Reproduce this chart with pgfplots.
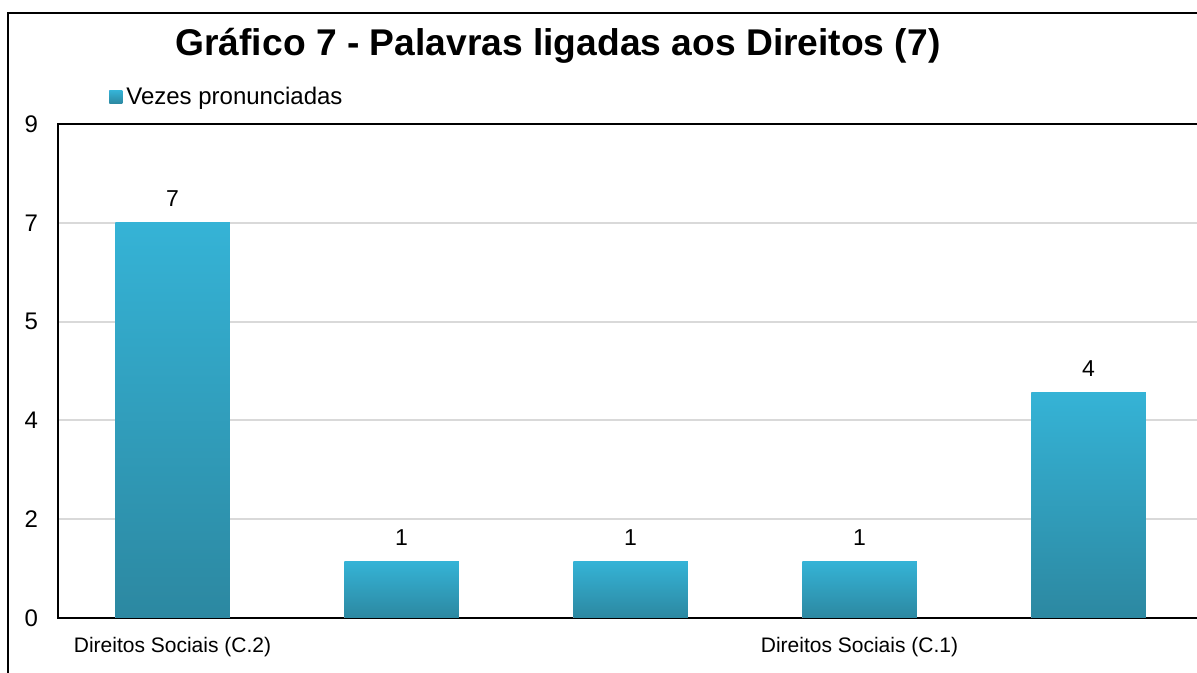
\documentclass[border=0pt]{standalone}
\usepackage{fontspec}
\setmainfont{Liberation Sans}
\usepackage{pgfplots}
\pgfplotsset{compat=1.18}
\definecolor{bartop}{RGB}{53,179,214}
\definecolor{barbot}{RGB}{44,136,161}
\definecolor{gridgray}{RGB}{217,217,217}
\begin{document}
\begin{tikzpicture}
% page is 1197x673 px at 0.5pt per px
\draw[line width=1pt] (4pt,-5pt) -- (4pt,330pt) -- (605pt,330pt);
\node[font=\bfseries\fontsize{18.6}{21}\selectfont, anchor=base] at (279pt,308.5pt)
  {Gráfico 7 - Palavras ligadas aos Direitos (7)};
\begin{axis}[
  set layers,
  at={(29pt,27.5pt)}, anchor=south west,
  scale only axis, width=572.5pt, height=247pt,
  ybar, bar width=0.5, bar shift=0pt,
  xmin=-0.5, xmax=4.5, ymin=0, ymax=8.75,
  ytick={0,1.75,3.5,5.25,7,8.75},
  yticklabels={0,2,4,5,7,9},
  xtick={0,1,2,3,4},
  xticklabels={Direitos Sociais (C.2),,,Direitos Sociais (C.1),},
  major tick length=0pt,
  ymajorgrids, grid style={gridgray, line width=1pt},
  axis line style={line width=1pt, on layer=axis foreground},
  /pgf/number format/assume math mode=true,
  yticklabel style={font=\fontsize{12}{14}\selectfont, xshift=-6.5pt},
  xticklabel style={font=\fontsize{10.5}{12}\selectfont, yshift=-6pt},
  nodes near coords,
  every node near coord/.append style={font=\fontsize{11.5}{13}\selectfont, text=black, anchor=center, yshift=12pt},
  legend style={at={(axis description cs:0.0445,1.0547)}, anchor=west,
    draw=none, fill=none, inner sep=0pt, font=\fontsize{12}{14}\selectfont},
  legend image code/.code={\fill[top color=bartop, bottom color=barbot] (0pt,-3.25pt) rectangle (6.5pt,3.25pt);},
  every axis plot/.append style={draw=none, top color=bartop, bottom color=barbot},
]
\addplot coordinates {(0,7)};
\addlegendentry{Vezes pronunciadas}
\addplot+[forget plot] coordinates {(1,1)};
\addplot+[forget plot] coordinates {(2,1)};
\addplot+[forget plot] coordinates {(3,1)};
\addplot+[forget plot] coordinates {(4,4)};
\end{axis}
\pgfresetboundingbox
\path[use as bounding box] (0,0) rectangle (598.5pt,336.5pt);
\end{tikzpicture}
\end{document}
